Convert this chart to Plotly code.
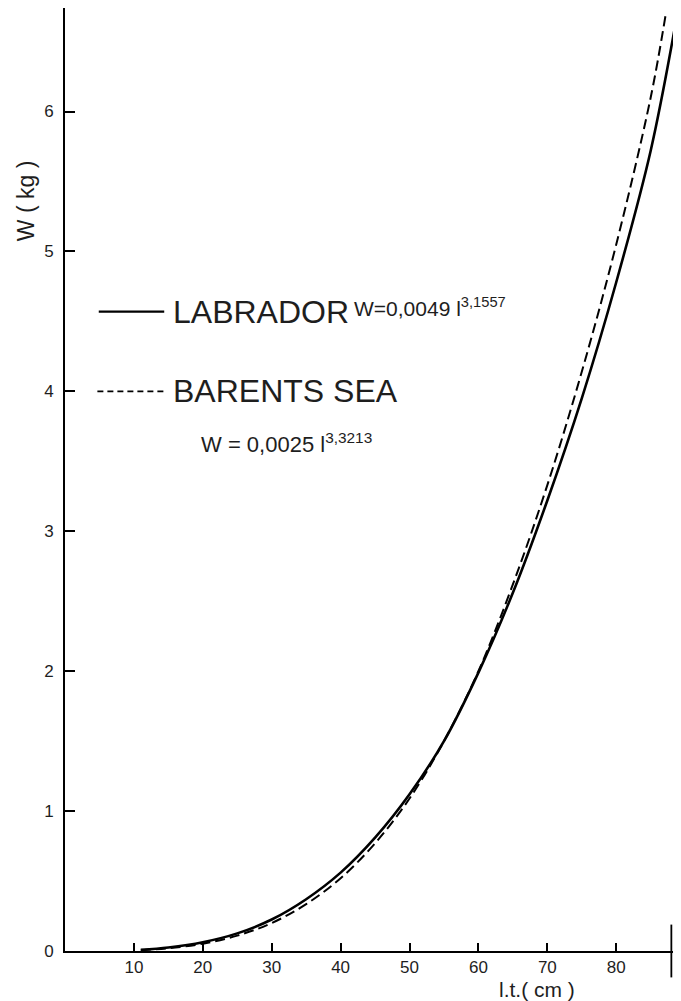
import plotly.graph_objects as go

# Data (length in cm, weight in kg)
lab_len = [11, 15, 20, 25, 30, 35, 40, 45, 50, 55, 60, 65, 70, 75, 80, 85, 88.8]
lab_w = [0.008, 0.025, 0.063, 0.126, 0.225, 0.37, 0.56, 0.81, 1.12, 1.50, 1.99, 2.56, 3.22, 3.95, 4.78, 5.72, 6.68]

bar_len = [11, 15, 20, 25, 30, 35, 40, 45, 50, 55, 60, 65, 70, 75, 80, 85, 87.2]
bar_w = [0.006, 0.02, 0.052, 0.11, 0.20, 0.335, 0.52, 0.77, 1.09, 1.50, 2.00, 2.62, 3.33, 4.14, 5.05, 6.10, 6.70]

x_ticks = [10, 20, 30, 40, 50, 60, 70, 80]
y_ticks = [0, 1, 2, 3, 4, 5, 6]
x_max = 89.4
y_max = 6.74
x_end_mark = 88

FONT = "Liberation Sans, Arial, sans-serif"
TXT = "#1e1e1e"

fig = go.Figure()
fig.add_trace(go.Scatter(x=lab_len, y=lab_w, mode="lines", line=dict(color="black", width=2.6, shape="spline"),
                         showlegend=False, hoverinfo="skip", cliponaxis=True))
fig.add_trace(go.Scatter(x=bar_len, y=bar_w, mode="lines",
                         line=dict(color="black", width=2, dash="10px,5px", shape="spline"),
                         showlegend=False, hoverinfo="skip", cliponaxis=True))

# The page body has an 8px default margin, so the figure is 8px smaller than the window.
fig.update_layout(
    width=673, height=993,
    margin=dict(l=57, r=0, t=0, b=50),
    plot_bgcolor="white", paper_bgcolor="white",
    font=dict(family=FONT, color=TXT),
    xaxis=dict(range=[0, x_max], tickvals=x_ticks, ticks="inside", ticklen=8, tickwidth=1.5,
               tickcolor="black", showline=True, linecolor="black", linewidth=1.8, showgrid=False,
               zeroline=False, tickfont=dict(size=17, color=TXT)),
    yaxis=dict(range=[0, y_max], tickvals=y_ticks, ticks="inside", ticklen=10, tickwidth=1.5,
               tickcolor="black", showline=True, linecolor="black", linewidth=1.8, showgrid=False,
               zeroline=False, tickfont=dict(size=17, color=TXT), ticklabelstandoff=6),
)

# Axis titles
fig.add_annotation(text="W ( kg )", xref="paper", yref="paper", x=-0.062, y=0.796,
                   xanchor="center", yanchor="middle", textangle=-90, showarrow=False,
                   font=dict(size=23, color=TXT))
fig.add_annotation(text="l.t.( cm )", xref="paper", yref="paper", x=0.766, y=-0.041,
                   xanchor="center", yanchor="middle", showarrow=False,
                   font=dict(size=21, color=TXT))

# Legend-like annotations
fig.add_shape(type="line", xref="x", yref="y", x0=4.9, x1=14.4, y0=4.57, y1=4.57,
              line=dict(color="black", width=2.4))
fig.add_annotation(text="LABRADOR", xref="x", yref="y", x=15.4, y=4.57, xanchor="left", yanchor="middle",
                   showarrow=False, font=dict(size=32, color=TXT))
fig.add_annotation(text="W=0,0049 l<sup>3,1557</sup>", xref="x", yref="y", x=41.6, y=4.60,
                   xanchor="left", yanchor="middle", showarrow=False, font=dict(size=21, color=TXT))
fig.add_shape(type="line", xref="x", yref="y", x0=4.7, x1=14.4, y0=4.0, y1=4.0,
              line=dict(color="black", width=1.6, dash="6px,4px"))
fig.add_annotation(text="BARENTS SEA", xref="x", yref="y", x=15.4, y=4.0, xanchor="left", yanchor="middle",
                   showarrow=False, font=dict(size=32, color=TXT))
fig.add_annotation(text="W = 0,0025 l<sup>3,3213</sup>", xref="x", yref="y", x=19.5, y=3.63,
                   xanchor="left", yanchor="middle", showarrow=False, font=dict(size=22, color=TXT))

# End mark on x axis
fig.add_shape(type="line", xref="paper", yref="paper", x0=x_end_mark / x_max, x1=x_end_mark / x_max,
              y0=-0.028, y1=0.028, line=dict(color="black", width=1.8))

fig.write_html("out.html")
